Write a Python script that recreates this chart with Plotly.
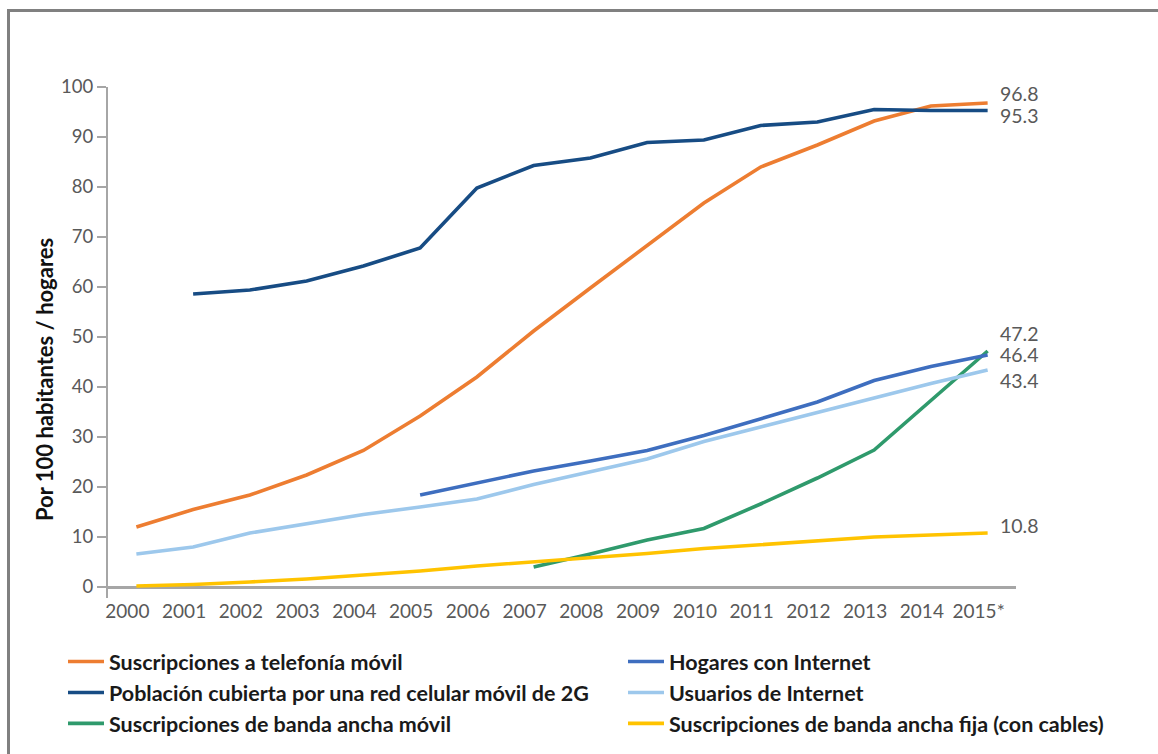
import plotly.graph_objects as go

# ---------------- data ----------------
years_all = list(range(2000, 2016))
tick_text = [str(y) for y in range(2000, 2015)] + ["2015*"]

movil_years = list(range(2000, 2016))
movil = [12.0, 15.5, 18.4, 22.4, 27.3, 34.2, 42.0, 51.2, 59.8, 68.2, 76.8, 84.0, 88.4, 93.2, 96.2, 96.8]

red2g_years = list(range(2001, 2016))
red2g = [58.6, 59.4, 61.2, 64.2, 67.8, 79.8, 84.3, 85.8, 88.9, 89.4, 92.3, 93.0, 95.5, 95.3, 95.3]

hogares_years = list(range(2005, 2016))
hogares = [18.4, 20.8, 23.2, 25.2, 27.3, 30.3, 33.6, 37.0, 41.3, 44.1, 46.4]

usuarios_years = list(range(2000, 2016))
usuarios = [6.6, 8.0, 10.8, 12.6, 14.5, 16.0, 17.6, 20.5, 23.0, 25.6, 29.1, 32.0, 34.9, 37.8, 40.7, 43.4]

bam_years = list(range(2007, 2016))
bam = [4.0, 6.6, 9.4, 11.7, 16.6, 21.8, 27.4, 37.2, 47.2]

baf_years = list(range(2000, 2016))
baf = [0.2, 0.5, 1.0, 1.6, 2.4, 3.2, 4.2, 5.0, 5.9, 6.7, 7.7, 8.5, 9.2, 10.0, 10.4, 10.8]

end_labels = ["96.8", "95.3", "47.2", "46.4", "43.4", "10.8"]
end_values = [96.8, 95.3, 47.2, 46.4, 43.4, 10.8]
end_yshift = [10, -5, 18, 1, -10, 8]

# ---------------- styles ----------------
FONT = "Lato, 'Open Sans', sans-serif"
C_ORANGE = "#ED7D31"
C_NAVY = "#174C84"
C_MID = "#3E6EBF"
C_LIGHT = "#9DC8EC"
C_GREEN = "#2F9A6C"
C_YELLOW = "#FFC300"
LW = 3.6

fig = go.Figure()

def add(name, xs, ys, color, legend):
    fig.add_trace(go.Scatter(x=xs, y=ys, mode="lines", name=name,
                             line=dict(color=color, width=LW),
                             legend=legend))

add("Suscripciones a telefonía móvil", movil_years, movil, C_ORANGE, "legend")
add("Población cubierta por una red celular móvil de 2G", red2g_years, red2g, C_NAVY, "legend")
add("Suscripciones de banda ancha móvil", bam_years, bam, C_GREEN, "legend")
add("Hogares con Internet", hogares_years, hogares, C_MID, "legend2")
add("Usuarios de Internet", usuarios_years, usuarios, C_LIGHT, "legend2")
add("Suscripciones de banda ancha fija (con cables)", baf_years, baf, C_YELLOW, "legend2")

annotations = []
for txt, v, ys in zip(end_labels, end_values, end_yshift):
    annotations.append(dict(x=2015, y=v, xref="x", yref="y", text=txt, showarrow=False,
                            xanchor="left", yanchor="middle", xshift=10, yshift=ys,
                            font=dict(family=FONT, size=19.5, color="#595959")))

# y axis title
annotations.append(dict(x=(44 - 108) / 908, y=(598 - 380) / 511, xref="paper", yref="paper",
                        text="Por 100 habitantes / hogares", textangle=-90, showarrow=False,
                        xanchor="center", yanchor="middle",
                        font=dict(family=FONT, size=22, color="#111111", weight="bold")))

legend_font = dict(family=FONT, size=21.5, color="#1a1a1a", weight="bold")

fig.update_layout(
    width=1158, height=754,
    margin=dict(l=108, r=142, t=87, b=156, autoexpand=False),
    paper_bgcolor="white", plot_bgcolor="white",
    showlegend=True,
    legend=dict(x=(63 - 108) / 908, y=(598 - 641) / 511, xanchor="left", yanchor="top",
                orientation="v", font=legend_font, bgcolor="rgba(0,0,0,0)",
                itemwidth=36, tracegroupgap=0),
    legend2=dict(x=(623 - 108) / 908, y=(598 - 641) / 511, xanchor="left", yanchor="top",
                 orientation="v", font=legend_font, bgcolor="rgba(0,0,0,0)",
                 itemwidth=36, tracegroupgap=0),
    xaxis=dict(range=[1999.5, 2015.5], tickmode="array", tickvals=years_all, ticktext=tick_text,
               showgrid=False, zeroline=False, showline=False, ticks="",
               tickfont=dict(family=FONT, size=19, color="#595959"),
               ticklabelshift=-9, automargin=False),
    yaxis=dict(range=[-2.2, 100], tickmode="array", tickvals=list(range(0, 101, 10)),
               showgrid=False, zeroline=True, zerolinecolor="#A6A6A6", zerolinewidth=3,
               showline=True, linecolor="#A6A6A6", linewidth=2,
               ticks="outside", ticklen=9, tickwidth=2, tickcolor="#A6A6A6",
               tickfont=dict(family=FONT, size=18.5, color="#595959"), automargin=False),
    annotations=annotations,
    shapes=[dict(type="rect", xref="paper", yref="paper",
                 x0=(8.5 - 108) / 908, x1=(1175 - 108) / 908,
                 y0=(598 - 790) / 511, y1=(598 - 10.5) / 511,
                 line=dict(color="#808080", width=3), fillcolor="rgba(0,0,0,0)", layer="below")],
)

fig.write_html("out.html")
